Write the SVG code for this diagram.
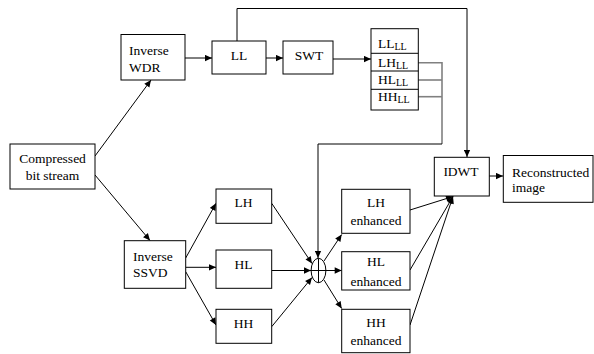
<svg xmlns="http://www.w3.org/2000/svg" width="594" height="354" viewBox="0 0 594 354" font-family="'Liberation Serif', 'Times New Roman', serif" font-size="13.5">
<defs>
<style>
.box{fill:#fff;stroke:#000;stroke-width:1}
text{font-family:'Liberation Serif','Times New Roman',serif;font-size:13.5px;fill:#000}
.c{text-anchor:middle}
.sub{font-size:10px}
.ln{fill:none;stroke:#000;stroke-width:1}
.ar{marker-end:url(#ah)}
.gr{fill:none;stroke:#808080;stroke-width:1.6}
</style>
<marker id="ah" viewBox="0 0 10 10" refX="10" refY="5" markerWidth="8" markerHeight="7" markerUnits="userSpaceOnUse" orient="auto">
<path d="M0,0.5 L10,5 L0,9.5 z" fill="#000"/>
</marker>
</defs>
<rect width="594" height="354" fill="#fff"/>

<g id="connectors">
<line class="ln ar" x1="95" y1="156" x2="151" y2="80"/>
<line class="ln ar" x1="95" y1="175" x2="150" y2="240.5"/>
<line class="ln ar" x1="185" y1="58" x2="212" y2="58"/>
<line class="ln ar" x1="266" y1="58" x2="283" y2="58"/>
<line class="ln ar" x1="333" y1="59" x2="371" y2="59"/>
<polyline class="ln ar" points="237,41 237,8.5 467,8.5 467,157"/>
<polyline class="gr" points="418,62.7 442,62.7 442,144"/>
<line class="gr" x1="418" y1="80" x2="442" y2="80"/>
<line class="gr" x1="418" y1="96.7" x2="442" y2="96.7"/>
<polyline class="ln" points="442,144 318,144" stroke="#444"/>
<line class="ln ar" x1="318" y1="144" x2="318" y2="258"/>
<line class="ln ar" x1="185.7" y1="258" x2="216" y2="203.3"/>
<line class="ln ar" x1="185.7" y1="267.3" x2="216" y2="267.3"/>
<line class="ln ar" x1="185.7" y1="271.7" x2="216" y2="325"/>
<line class="ln ar" x1="271.7" y1="203.3" x2="312" y2="263.5"/>
<line class="ln ar" x1="271.7" y1="270.5" x2="311" y2="270.5"/>
<line class="ln ar" x1="271.7" y1="326.7" x2="312" y2="277.5"/>
<line class="ln ar" x1="324" y1="261" x2="341.7" y2="234.5"/>
<line class="ln ar" x1="326" y1="270.5" x2="341.7" y2="270.5"/>
<line class="ln ar" x1="324" y1="280" x2="341.7" y2="308.5"/>
<line class="ln ar" x1="410" y1="210" x2="453" y2="196.5"/>
<line class="ln ar" x1="410" y1="270" x2="453" y2="196.5"/>
<line class="ln ar" x1="410" y1="325" x2="453" y2="196.5"/>
<line class="ln ar" x1="489" y1="176" x2="503" y2="176"/>
</g>

<g id="compressed">
<rect class="box" x="10" y="144" width="85" height="45"/>
<text class="c" x="52.5" y="163">Compressed</text>
<text class="c" x="52.5" y="180">bit stream</text>
</g>
<g id="inverse-wdr">
<rect class="box" x="121" y="34.5" width="64" height="45.5"/>
<text x="129" y="55">Inverse</text>
<text x="129" y="71.5">WDR</text>
</g>
<g id="ll">
<rect class="box" x="212" y="41" width="54" height="33"/>
<text class="c" x="239" y="60">LL</text>
</g>
<g id="swt">
<rect class="box" x="283" y="41" width="50" height="33"/>
<text class="c" x="309" y="60">SWT</text>
</g>
<g id="subbands">
<rect class="box" x="371" y="28.7" width="47.3" height="81.3"/>
<line class="ln" x1="371" y1="53.3" x2="418.3" y2="53.3"/>
<line class="ln" x1="371" y1="71" x2="418.3" y2="71"/>
<line class="ln" x1="371" y1="89.3" x2="418.3" y2="89.3"/>
<text x="378" y="48.3">LL<tspan class="sub" dy="2">LL</tspan></text>
<text x="378" y="66.7">LH<tspan class="sub" dy="2">LL</tspan></text>
<text x="378" y="84">HL<tspan class="sub" dy="2">LL</tspan></text>
<text x="378" y="100.7">HH<tspan class="sub" dy="2">LL</tspan></text>
</g>
<g id="inverse-ssvd">
<rect class="box" x="124.3" y="240.7" width="61.4" height="47.6"/>
<text x="133" y="260.7">Inverse</text>
<text x="133" y="277.3">SSVD</text>
</g>
<g id="lh">
<rect class="box" x="216" y="189" width="55.7" height="34.3"/>
<text class="c" x="243.5" y="207.3">LH</text>
</g>
<g id="hl">
<rect class="box" x="216" y="250" width="55.7" height="38.3"/>
<text class="c" x="243.5" y="269">HL</text>
</g>
<g id="hh">
<rect class="box" x="216" y="309.3" width="55.7" height="34"/>
<text class="c" x="243.5" y="328.3">HH</text>
</g>
<g id="adder">
<ellipse cx="318.5" cy="270.5" rx="7.4" ry="12.2" fill="#fff" stroke="#000" stroke-width="1"/>
<line class="ln" x1="311" y1="270.5" x2="326" y2="270.5"/>
<line class="ln" x1="318.5" y1="258.3" x2="318.5" y2="282.7"/>
</g>
<g id="lh-enh">
<rect class="box" x="341.7" y="189.3" width="68.3" height="44"/>
<text class="c" x="376" y="207.3">LH</text>
<text class="c" x="376" y="225">enhanced</text>
</g>
<g id="hl-enh">
<rect class="box" x="341.7" y="251.7" width="68.3" height="38.3"/>
<text class="c" x="376" y="266">HL</text>
<text class="c" x="376" y="286">enhanced</text>
</g>
<g id="hh-enh">
<rect class="box" x="341.7" y="309.3" width="68.3" height="43.4"/>
<text class="c" x="376" y="326.7">HH</text>
<text class="c" x="376" y="345">enhanced</text>
</g>
<g id="idwt">
<rect class="box" x="434.3" y="157.3" width="55" height="38.7"/>
<text class="c" x="461" y="175.5">IDWT</text>
</g>
<g id="reconstructed">
<rect class="box" x="503.3" y="155.5" width="89.7" height="46.8"/>
<text x="512" y="176.7">Reconstructed</text>
<text x="512" y="191.7">image</text>
</g>
</svg>
